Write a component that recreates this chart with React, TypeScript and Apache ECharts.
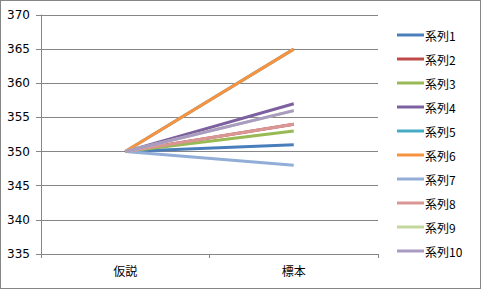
import React, { useEffect, useRef } from "react";
import * as echarts from "echarts";

const categories = ["仮説", "標本"];
const seriesNames = ["系列1", "系列2", "系列3", "系列4", "系列5", "系列6", "系列7", "系列8", "系列9", "系列10"];
const startValues = [350, 350, 350, 350, 350, 350, 350, 350, 350, 350];
const endValues = [351, 354, 353, 357, 365, 365, 348, 354, 356, 356];
const colors = ["#4A7EBB", "#BE4B48", "#98B954", "#7D60A0", "#46AAC5", "#F69240", "#92ADD6", "#D99694", "#C3D69B", "#A99BC2"];
const yMin = 335;
const yMax = 370;
const yStep = 5;

export default function App() {
  const ref = useRef<HTMLDivElement>(null);
  useEffect(() => {
    document.body.style.margin = "0";
    const chart = echarts.init(ref.current!, null, { renderer: "svg" });
    chart.setOption({
      animation: false,
      textStyle: { fontFamily: "'Noto Sans CJK JP', 'DejaVu Sans', sans-serif" },
      grid: { left: 40, top: 14, right: 102, bottom: 34, containLabel: false },
      xAxis: {
        type: "category",
        data: categories,
        boundaryGap: true,
        axisLine: { lineStyle: { color: "#868686", width: 1 } },
        axisTick: { show: true, length: 4, lineStyle: { color: "#868686" } },
        axisLabel: { color: "#000", fontSize: 12, margin: 10 },
      },
      yAxis: {
        type: "value",
        min: yMin,
        max: yMax,
        interval: yStep,
        axisLine: { show: true, lineStyle: { color: "#868686", width: 1 } },
        axisTick: { show: true, length: 5, lineStyle: { color: "#868686" } },
        axisLabel: { color: "#000", fontSize: 12, margin: 11, fontFamily: "'DejaVu Sans', sans-serif" },
        splitLine: { show: true, lineStyle: { color: "#868686", width: 1 } },
      },
      legend: {
        orient: "vertical",
        left: 391,
        top: 23,
        itemWidth: 27,
        itemHeight: 12,
        itemGap: 12,
        textStyle: { color: "#000", fontSize: 12, padding: [0, 0, 0, -4] },
        data: seriesNames.map((n, i) => ({ name: n, itemStyle: { color: colors[i] }, icon: "path://M0,5.5L27,5.5L27,8.5L0,8.5Z" })),
      },
      series: seriesNames.map((name, i) => ({
        name,
        type: "line",
        data: [startValues[i], endValues[i]],
        symbol: "none",
        color: colors[i],
        lineStyle: { color: colors[i], width: 3 },
      })),
    });
    return () => chart.dispose();
  }, []);
  return (
    <div style={{ width: 481, height: 289, boxSizing: "border-box", border: "1px solid #868686", position: "relative", background: "#fff" }}>
      <div ref={ref} style={{ width: 479, height: 287, position: "absolute", left: 0, top: 0 }} />
    </div>
  );
}
